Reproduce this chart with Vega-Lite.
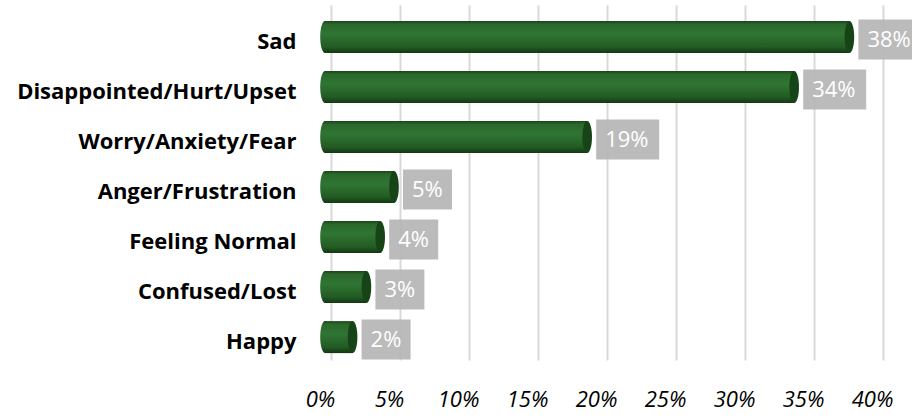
{
  "$schema": "https://vega.github.io/schema/vega-lite/v6.json",
  "autosize": {"type": "none"},
  "padding": {"left": 331, "top": 5, "right": 29, "bottom": 57},
  "width": 552,
  "height": 355,
  "background": "white",
  "config": {"view": {"stroke": null}},
  "data": {
    "values": [
      {"emotion": "Sad", "value": 0.38},
      {"emotion": "Disappointed/Hurt/Upset", "value": 0.34},
      {"emotion": "Worry/Anxiety/Fear", "value": 0.19},
      {"emotion": "Anger/Frustration", "value": 0.05},
      {"emotion": "Feeling Normal ", "value": 0.04},
      {"emotion": "Confused/Lost", "value": 0.03},
      {"emotion": "Happy", "value": 0.02}
    ]
  },
  "encoding": {
    "y": {
      "field": "emotion",
      "type": "nominal",
      "sort": null,
      "scale": {"paddingInner": 0.36, "paddingOuter": 0.23, "align": 0.7},
      "axis": {
        "title": null,
        "domain": false,
        "ticks": false,
        "labelFont": "Open Sans",
        "labelFontWeight": "bold",
        "labelFontSize": 22,
        "labelColor": "#000000",
        "labelPadding": 35,
        "labelOffset": 5,
        "labelLimit": 400
      }
    }
  },
  "layer": [
    {
      "mark": {
        "type": "bar",
        "height": 32,
        "xOffset": -6,
        "x2Offset": -6,
        "fill": {"gradient": "linear", "x1": 0, "y1": 0, "x2": 0, "y2": 1,
          "stops": [
            {"offset": 0, "color": "#1a461a"},
            {"offset": 0.1, "color": "#2a682b"},
            {"offset": 0.4, "color": "#2f7533"},
            {"offset": 0.8, "color": "#235c24"},
            {"offset": 1, "color": "#133713"}
          ]}
      },
      "encoding": {
        "x": {
          "field": "value",
          "type": "quantitative",
          "scale": {"domain": [0, 0.4], "nice": false},
          "axis": {
            "title": null,
            "values": [0, 0.05, 0.1, 0.15, 0.2, 0.25, 0.3, 0.35, 0.4],
            "format": ".0%",
            "domain": false,
            "ticks": false,
            "grid": true,
            "gridColor": "#d9d9d9",
            "gridWidth": 2,
            "labelFont": "Open Sans",
            "labelFontStyle": "italic",
            "labelFontSize": 22,
            "labelColor": "#000000",
            "labelPadding": 29,
            "labelOffset": -11,
            "labelFlush": false,
            "labelOverlap": false
          }
        }
      }
    },
    {
      "mark": {
        "type": "point",
        "filled": true,
        "size": 1024,
        "strokeWidth": 0,
        "opacity": 1,
        "xOffset": -6,
        "shape": "M0,-1 A0.3,1 0 1,1 0,1 A0.3,1 0 1,1 0,-1 Z",
        "fill": {"gradient": "linear", "x1": 0, "y1": 0, "x2": 0, "y2": 1,
          "stops": [
            {"offset": 0, "color": "#1a461a"},
            {"offset": 0.1, "color": "#2a682b"},
            {"offset": 0.4, "color": "#2f7533"},
            {"offset": 0.8, "color": "#235c24"},
            {"offset": 1, "color": "#133713"}
          ]}
      },
      "encoding": {
        "x": {"datum": 0, "type": "quantitative"}
      }
    },
    {
      "mark": {
        "type": "point",
        "filled": true,
        "size": 1024,
        "strokeWidth": 0,
        "opacity": 1,
        "xOffset": -6,
        "shape": "M0,-1 A0.3,1 0 1,1 0,1 A0.3,1 0 1,1 0,-1 Z",
        "fill": "#174417"
      },
      "encoding": {
        "x": {"field": "value", "type": "quantitative"}
      }
    },
    {
      "transform": [{"filter": "datum.value >= 0.1"}],
      "mark": {
        "type": "bar",
        "height": 40,
        "yOffset": 2.5,
        "xOffset": 3,
        "x2Offset": 66,
        "fill": "#b5b5b5",
        "opacity": 0.92
      },
      "encoding": {
        "x": {"field": "value", "type": "quantitative"},
        "x2": {"field": "value"}
      }
    },
    {
      "transform": [{"filter": "datum.value < 0.1"}],
      "mark": {
        "type": "bar",
        "height": 40,
        "yOffset": 2.5,
        "xOffset": 3,
        "x2Offset": 52,
        "fill": "#b5b5b5",
        "opacity": 0.92
      },
      "encoding": {
        "x": {"field": "value", "type": "quantitative"},
        "x2": {"field": "value"}
      }
    },
    {
      "mark": {
        "type": "text",
        "align": "left",
        "baseline": "middle",
        "dx": 12,
        "yOffset": 3,
        "font": "Open Sans",
        "fontSize": 22,
        "color": "#ffffff"
      },
      "encoding": {
        "x": {"field": "value", "type": "quantitative"},
        "text": {"field": "value", "type": "quantitative", "format": ".0%"}
      }
    }
  ]
}
